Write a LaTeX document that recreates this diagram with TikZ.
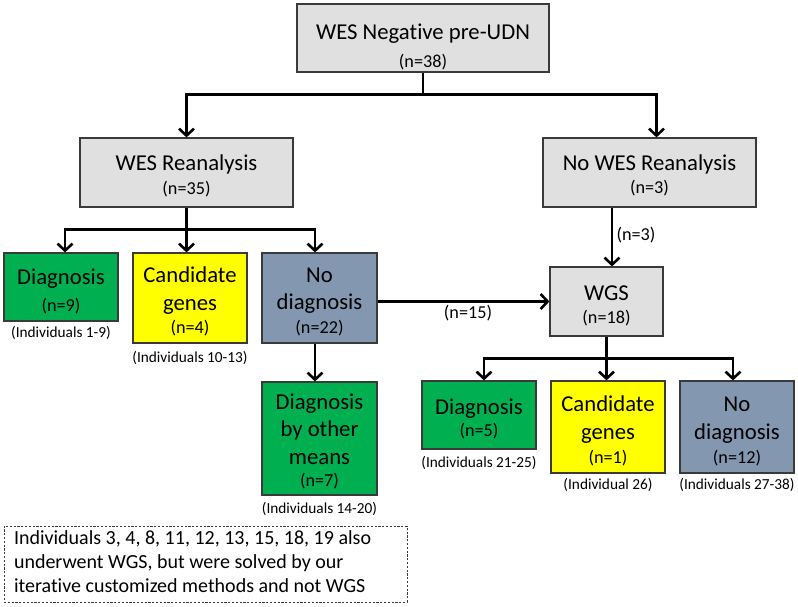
\documentclass[tikz,border=0pt]{standalone}
\usepackage{fontspec}
\setmainfont{Carlito}[Ligatures={NoCommon}]
\usetikzlibrary{arrows.meta,calc}
\definecolor{boxgray}{HTML}{E0E0E0}
\definecolor{boxgreen}{HTML}{00B050}
\definecolor{boxyellow}{HTML}{FFFF00}
\definecolor{boxblue}{HTML}{8497B0}
\definecolor{edgecol}{HTML}{3A3A3A}
\newcommand\nsz{\fontsize{18.2}{20}\selectfont}
\tikzset{
  box/.style={draw=edgecol, line width=1.2pt, inner sep=0pt},
  graybox/.style={box, fill=boxgray},
  greenbox/.style={box, fill=boxgreen},
  yellowbox/.style={box, fill=boxyellow},
  bluebox/.style={box, fill=boxblue},
  btext/.style={align=center, inner sep=0pt, text=black,
    font=\fontsize{22.7}{27}\selectfont, label distance=0pt},
  flow/.style={line width=2.6pt, -{Straight Barb[length=7pt,width=15pt]}},
  plain/.style={line width=2.6pt},
  ann/.style={font=\fontsize{15.3}{18}\selectfont, inner sep=0pt},
  nlab/.style={font=\nsz, inner sep=0pt},
  notebox/.style={draw=edgecol, line width=0.8pt, dash pattern=on 2.2pt off 1.6pt,
    inner xsep=10pt, inner ysep=0pt, font=\fontsize{20}{24}\selectfont}
}
\begin{document}
\begin{tikzpicture}[x=1pt,y=-1pt]
\useasboundingbox (0,0) rectangle (798,606);

\node[graybox, minimum width=252pt, minimum height=68pt,
  label={[btext, yshift=-8.5pt]center:{WES Negative pre-UDN\\[1pt]{\nsz (n=38)}}}] (top) at (423,38) {};
\node[graybox, minimum width=213pt, minimum height=69pt,
  label={[btext, yshift=-3.5pt]center:{WES Reanalysis\\[-3pt]{\nsz (n=35)}}}] (wesr) at (186.5,172.5) {};
\node[graybox, minimum width=213pt, minimum height=69pt,
  label={[btext, yshift=-3pt]center:{No WES Reanalysis\\[-4pt]{\nsz (n=3)}}}] (nowes) at (649.5,172.5) {};

\node[greenbox, minimum width=114pt, minimum height=68pt,
  label={[btext, yshift=-4pt]center:{Diagnosis\\{\nsz (n=9)}}}] (diag1) at (61,287) {};
\node[yellowbox, minimum width=114pt, minimum height=90pt,
  label={[btext, yshift=-3.5pt]center:{Candidate\\[1pt]genes\\[-4pt]{\nsz (n=4)}}}] (cand1) at (190,298) {};
\node[bluebox, minimum width=115pt, minimum height=90pt,
  label={[btext, yshift=-3.5pt]center:{No\\diagnosis\\[-3pt]{\nsz (n=22)}}}] (nodx1) at (319.5,298) {};
\node[greenbox, minimum width=115pt, minimum height=113pt,
  label={[btext, yshift=-3pt]center:{Diagnosis\\by other\\[1pt]means\\[-5pt]{\nsz (n=7)}}}] (other) at (319.5,438.5) {};

\node[graybox, minimum width=113pt, minimum height=69pt,
  label={[btext, yshift=-4.4pt]center:{WGS\\[-4pt]{\nsz (n=18)}}}] (wgs) at (606.5,301.5) {};

\node[greenbox, minimum width=114pt, minimum height=68pt,
  label={[btext, yshift=-3.5pt]center:{Diagnosis\\[-5pt]{\nsz (n=5)}}}] (diag2) at (479,415) {};
\node[yellowbox, minimum width=114pt, minimum height=92pt,
  label={[btext, yshift=-4pt]center:{Candidate\\[1pt]genes\\[-3pt]{\nsz (n=1)}}}] (cand2) at (608,427) {};
\node[bluebox, minimum width=114pt, minimum height=92pt,
  label={[btext, yshift=-4pt]center:{No\\[1pt]diagnosis\\[-3pt]{\nsz (n=12)}}}] (nodx2) at (737,427) {};

% annotations
\node[ann] (a1) at ([yshift=-11pt]diag1.south) {(Individuals 1-9)};
\node[ann] (a2) at ([yshift=-14pt]cand1.south) {(Individuals 10-13)};
\node[ann] (a3) at ([yshift=-13pt]other.south) {(Individuals 14-20)};
\node[ann] (a4) at ([yshift=-13pt]diag2.south) {(Individuals 21-25)};
\node[ann] (a5) at ([yshift=-11pt]cand2.south) {(Individual 26)};
\node[ann] (a6) at ([yshift=-11pt]nodx2.south) {(Individuals 27-38)};

% note
\node[notebox, minimum width=403pt, minimum height=76pt] (note) at (205.5,564)
  {\makebox[383pt][l]{\begin{tabular}{@{}l@{}}Individuals 3, 4, 8, 11, 12, 13, 15, 18, 19 also\\underwent WGS, but were solved by our\\iterative customized methods and not WGS\end{tabular}}};

% connectors
\draw[plain] (top.south) -- ++(0,22) coordinate (j1);
\draw[flow] (j1) -| (wesr.north);
\draw[flow] (j1) -| ([xshift=7pt]nowes.north);

\draw[plain] (wesr.south) -- ++(0,22) coordinate (j2);
\draw[flow] (j2) -| ([xshift=4pt]diag1.north);
\draw[flow] (j2) -- (j2 |- cand1.north);
\draw[flow] (j2) -| ([xshift=-4.5pt]nodx1.north);

\draw[flow] ([xshift=-4.5pt]nodx1.south) -- ([xshift=-4.5pt]other.north);

\draw[flow] (wgs.west -| nodx1.east) -- (wgs.west);
\node[nlab] (l15) at (468,313) {(n=15)};

\draw[flow] ([xshift=-37.5pt]nowes.south) -- ([xshift=-37.5pt]nowes.south |- wgs.north);
\node[nlab] (l3) at (636,235) {(n=3)};

\draw[plain] (wgs.south) -- ++(0,22) coordinate (j3);
\draw[flow] (j3) -| ([xshift=5pt]diag2.north);
\draw[flow] (j3) -- (j3 |- cand2.north);
\draw[flow] (j3) -| ([xshift=-4pt]nodx2.north);
\end{tikzpicture}
\end{document}
